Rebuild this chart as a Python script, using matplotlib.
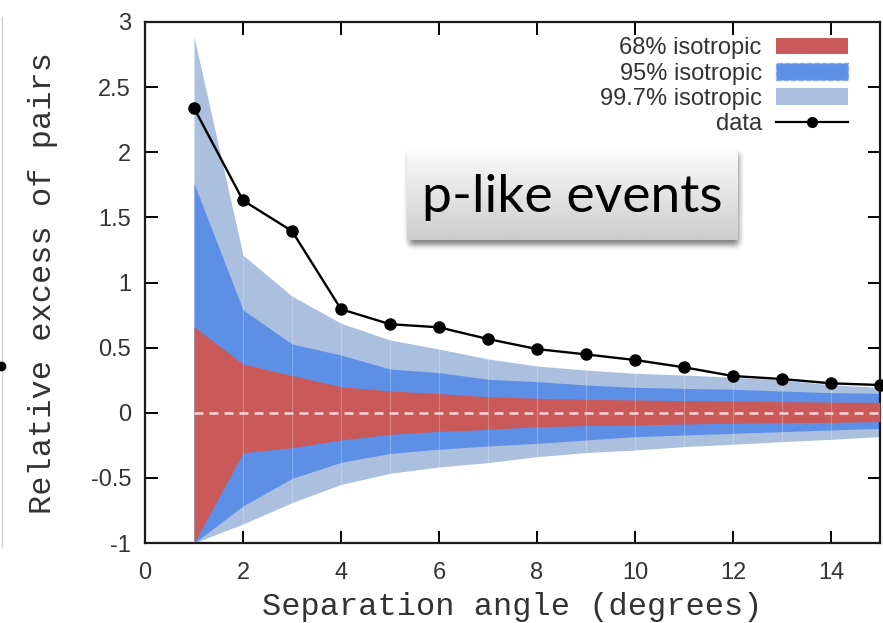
import numpy as np
import matplotlib
matplotlib.use('Agg')
import matplotlib.pyplot as plt
from matplotlib.patches import Patch
from matplotlib.lines import Line2D

# relative excess of pairs vs separation angle, with isotropic bands
angle = np.arange(1, 16)
data = [2.34, 1.63, 1.395, 0.795, 0.68, 0.656, 0.566, 0.489, 0.448, 0.405,
        0.349, 0.282, 0.259, 0.226, 0.213]

lo68 = [-1, -0.307, -0.268, -0.209, -0.166, -0.143, -0.128, -0.107, -0.099,
        -0.094, -0.086, -0.081, -0.076, -0.074, -0.068]
hi68 = [0.661, 0.374, 0.285, 0.2, 0.167, 0.147, 0.123, 0.111, 0.103, 0.098,
        0.093, 0.09, 0.085, 0.082, 0.08]
lo95 = [-1, -0.716, -0.504, -0.381, -0.312, -0.28, -0.255, -0.235, -0.209,
        -0.183, -0.171, -0.158, -0.145, -0.132, -0.12]
hi95 = [1.762, 0.79, 0.528, 0.443, 0.336, 0.308, 0.257, 0.239, 0.213, 0.195,
        0.187, 0.18, 0.167, 0.154, 0.149]
lo997 = [-1, -0.854, -0.69, -0.55, -0.465, -0.416, -0.383, -0.337, -0.306,
         -0.286, -0.26, -0.242, -0.222, -0.204, -0.183]
hi997 = [2.888, 1.21, 0.896, 0.687, 0.559, 0.489, 0.413, 0.359, 0.328, 0.303,
         0.29, 0.272, 0.251, 0.215, 0.195]

xticks = [0, 2, 4, 6, 8, 10, 12, 14]
yticks = [-1, -0.5, 0, 0.5, 1, 1.5, 2, 2.5, 3]
labels = ['68% isotropic', '95% isotropic', '99.7% isotropic', 'data']

red = '#c95a59'
blue = '#5d8fe6'
pale = '#aac0de'
grey = '#333333'

W, H = 883, 623
fig = plt.figure(figsize=(W / 100, H / 100), dpi=100)
ax = fig.add_axes([145 / W, 1 - 543 / H, 735 / W, 521 / H])

ax.fill_between(angle, lo997, hi997, color=pale, lw=0, zorder=1)
ax.fill_between(angle, lo95, hi95, color=blue, lw=0, zorder=2)
ax.fill_between(angle, lo68, hi68, color=red, lw=0, zorder=3)
# faint seams between segments
ax.vlines(angle[1:-1], lo997[1:-1], hi997[1:-1], colors='white', alpha=0.22,
          lw=0.9, zorder=3.5)
ax.hlines(0, angle[0], angle[-1], colors='#f4d6d6', linestyles=(0, (3.6, 2.4)),
          lw=1.8, zorder=4)
ax.plot(angle, data, '-o', color='black', lw=1.7, ms=8, zorder=6, clip_on=False)

ax.set_xlim(0, 15)
ax.set_ylim(-1, 3)
ax.set_xticks(xticks)
ax.set_xticklabels([str(t) for t in xticks])
ax.set_yticks(yticks)
ax.set_yticklabels(['{:g}'.format(t) for t in yticks])
ax.tick_params(direction='in', length=9, width=1.4, top=True, right=True,
               labelsize=17, labelcolor=grey, pad=10)
ax.tick_params(axis='x', pad=14)
for sp in ax.spines.values():
    sp.set_linewidth(1.6)
    sp.set_color('#1a1a1a')
for t in ax.get_xticklabels() + ax.get_yticklabels():
    t.set_family('Liberation Sans')

ax.set_xlabel('Separation angle (degrees)', family='Liberation Mono',
              fontsize=23, color=grey)
ax.set_ylabel('Relative excess of pairs', family='Liberation Mono',
              fontsize=23, color=grey)
ax.xaxis.set_label_coords(0.5, -0.095)
ax.yaxis.set_label_coords(-0.118, 0.5)

handles = [Patch(facecolor=red, edgecolor='none'),
           Patch(facecolor=blue, edgecolor='#86a9ee', linestyle='--', lw=1),
           Patch(facecolor=pale, edgecolor='none'),
           Line2D([], [], color='black', marker='o', lw=1.6, ms=7)]
leg = ax.legend(handles, labels, loc='upper right', bbox_to_anchor=(0.9565, 0.9705),
                frameon=False, markerfirst=False, labelspacing=0.14,
                handlelength=3.05, handletextpad=0.6, borderpad=0,
                borderaxespad=0, prop={'family': 'Liberation Sans', 'size': 17})
for t in leg.get_texts():
    t.set_color(grey)

# label box with soft drop shadow
bx0, by0, bx1, by1 = 407, 149, 738, 240
pad = 16
sh_ax = fig.add_axes([(bx0 - pad) / W, 1 - (by1 + pad) / H,
                      (bx1 - bx0 + 2 * pad) / W, (by1 - by0 + 2 * pad) / H],
                     zorder=3)
sh_ax.axis('off')
hh, ww = by1 - by0 + 2 * pad, bx1 - bx0 + 2 * pad
mask = np.zeros((hh, ww))
mask[pad + 5:hh - pad + 5, pad + 2:ww - pad + 1] = 1
k = np.ones(7) / 7
for _ in range(2):
    mask = np.apply_along_axis(lambda r: np.convolve(r, k, mode='same'), 0, mask)
    mask = np.apply_along_axis(lambda r: np.convolve(r, k, mode='same'), 1, mask)
rgba = np.zeros((hh, ww, 4))
rgba[..., 3] = mask * 0.5
sh_ax.imshow(rgba, aspect='auto', extent=[0, 1, 0, 1], interpolation='bilinear')

box_ax = fig.add_axes([bx0 / W, 1 - by1 / H, (bx1 - bx0) / W, (by1 - by0) / H],
                      zorder=4)
box_ax.axis('off')
grad = np.linspace(0.985, 0.80, 128)[:, None] * np.ones((1, 4))
box_ax.imshow(grad, cmap='gray', vmin=0, vmax=1, aspect='auto',
              extent=[0, 1, 0, 1], interpolation='bilinear')
box_ax.text(0.5, 0.47, 'p-like events', ha='center', va='center',
            fontsize=38.5, family='Lato', color='black',
            transform=box_ax.transAxes)

# edge of the neighbouring panel
fig.add_artist(Line2D([1.5 / W, 1.5 / W], [1 - 17 / H, 1 - 547 / H],
                      color='#d2d2d2', lw=1))
fig.add_artist(Line2D([1 / W], [1 - 366 / H], marker='o', color='black', ms=6))

fig.savefig('out.png', dpi=100)
